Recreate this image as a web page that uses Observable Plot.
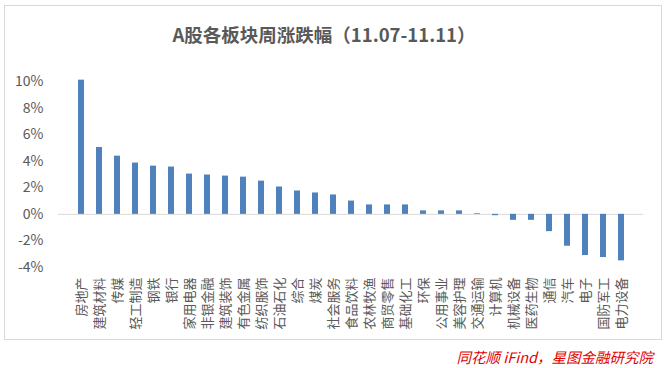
<!DOCTYPE html>
<html>
<head>
<meta charset="utf-8">
<script src="https://cdn.jsdelivr.net/npm/d3@7"></script>
<script src="https://cdn.jsdelivr.net/npm/@observablehq/plot@0.6"></script>
<style>
  html, body { margin: 0; padding: 0; background: #fff; }
  #wrap { position: relative; width: 666px; height: 368px; overflow: hidden; font-family: "Noto Sans CJK SC", "Noto Sans", sans-serif; }
  #frame { position: absolute; left: 4px; top: 5px; width: 656px; height: 333px; border: 1px solid #d9d9d9; }
  #title { position: absolute; left: 0; width: 648px; top: 22px; text-align: center; font-size: 18.5px; font-weight: bold; color: #595959; line-height: 24px; }
  #chart { position: absolute; left: 0; top: 60px; }
  #caption { position: absolute; right: 13px; top: 348px; font-size: 14.5px; font-style: italic; color: #e00000; line-height: 18px; }
</style>
</head>
<body>
<div id="wrap">
  <div id="frame"></div>
  <div id="title">A股各板块周涨跌幅（11.07-11.11）</div>
  <div id="chart"></div>
  <div id="caption">同花顺 iFind，星图金融研究院</div>
</div>
<script>
const categories = ["房地产","建筑材料","传媒","轻工制造","钢铁","银行","家用电器","非银金融","建筑装饰","有色金属","纺织服饰","石油石化","综合","煤炭","社会服务","食品饮料","农林牧渔","商贸零售","基础化工","环保","公用事业","美容护理","交通运输","计算机","机械设备","医药生物","通信","汽车","电子","国防军工","电力设备"];
const values = [10.1, 5.03, 4.38, 3.86, 3.63, 3.56, 3.03, 2.96, 2.88, 2.8, 2.5, 2.06, 1.76, 1.61, 1.46, 1.0, 0.71, 0.71, 0.71, 0.26, 0.26, 0.26, 0.05, -0.1, -0.45, -0.45, -1.3, -2.4, -3.1, -3.25, -3.5];
const yTicks = [-4, -2, 0, 2, 4, 6, 8, 10];

const data = categories.map((c, i) => ({cat: c, value: values[i]}));

const chart = Plot.plot({
  width: 666,
  height: 280,
  marginTop: 21,
  marginBottom: 73,
  marginLeft: 58,
  marginRight: 23,
  style: {fontFamily: '"Noto Sans CJK SC", "Noto Sans", sans-serif', background: "transparent", color: "#595959"},
  x: {domain: categories, paddingInner: 0.68, paddingOuter: 0.34, align: 0.5},
  y: {domain: [-4, 10]},
  marks: [
    Plot.axisY({ticks: yTicks, tickFormat: d => d + "%", tickSize: 0, tickPadding: 15, fontSize: 14, label: null, fill: "#595959"}),
    Plot.axisX({tickRotate: -90, tickSize: 0, tickPadding: 10, fontSize: 13, label: null, fill: "#595959"}),
    Plot.ruleY([0], {stroke: "#d9d9d9", strokeWidth: 1}),
    Plot.barY(data, {x: "cat", y: "value", fill: "#4f81bd"})
  ]
});
document.getElementById("chart").appendChild(chart);
</script>
</body>
</html>
